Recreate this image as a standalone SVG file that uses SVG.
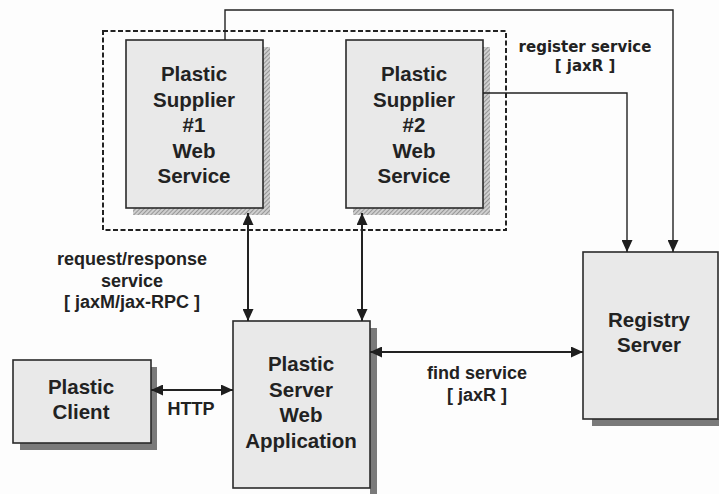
<svg xmlns="http://www.w3.org/2000/svg" width="719" height="494" viewBox="0 0 719 494">
  <style>
    .box { fill: #e9e9e9; stroke: #2a2a2a; stroke-width: 1.6; }
    .shadow { fill: #7a7a7a; }
    .hatch { fill: url(#hatch); }
    .node { font-family: "Liberation Sans", Arial, sans-serif; font-weight: bold; font-size: 20.5px; fill: #222; text-anchor: middle; }
    .lbl { font-family: "Liberation Sans", Arial, sans-serif; font-weight: bold; font-size: 18px; fill: #222; text-anchor: middle; }
    .lbl2 { font-family: "DejaVu Sans", Verdana, sans-serif; font-weight: bold; font-size: 15px; fill: #222; text-anchor: middle; }
    .wire { fill: none; stroke: #222; stroke-width: 1.4; }
    .link { fill: none; stroke: #222; stroke-width: 2; }
    .group { fill: none; stroke: #222; stroke-width: 2; stroke-dasharray: 5 2.5; }
  </style>
  <defs>
    <pattern id="hatch" width="3" height="3" patternUnits="userSpaceOnUse" patternTransform="rotate(45)">
      <rect width="3" height="3" fill="#cfcfcf"/>
      <line x1="0" y1="0" x2="0" y2="3" stroke="#7d7d7d" stroke-width="1.4"/>
    </pattern>
    <marker id="head" viewBox="0 0 12 11" refX="12" refY="5.5" markerWidth="12" markerHeight="11" markerUnits="userSpaceOnUse" orient="auto-start-reverse">
      <path d="M0,0 L12,5.5 L0,11 Z" fill="#1e1e1e"/>
    </marker>
  </defs>

  <rect width="719" height="494" fill="#fdfdfd"/>

  <!-- supplier group boundary -->
  <rect class="group" x="103" y="31" width="403" height="199"/>

  <g id="supplier1">
    <rect class="hatch" x="263" y="47" width="7" height="168"/>
    <rect class="hatch" x="133" y="208" width="137" height="7"/>
    <rect class="box" x="126" y="40" width="137" height="168"/>
    <text class="node" x="194" y="81">Plastic</text>
    <text class="node" x="194" y="106.5">Supplier</text>
    <text class="node" x="194" y="132">#1</text>
    <text class="node" x="194" y="157.5">Web</text>
    <text class="node" x="194" y="183">Service</text>
  </g>

  <g id="supplier2">
    <rect class="hatch" x="483" y="47" width="7" height="168"/>
    <rect class="hatch" x="353" y="208" width="137" height="7"/>
    <rect class="box" x="346" y="40" width="137" height="168"/>
    <text class="node" x="414" y="81">Plastic</text>
    <text class="node" x="414" y="106.5">Supplier</text>
    <text class="node" x="414" y="132">#2</text>
    <text class="node" x="414" y="157.5">Web</text>
    <text class="node" x="414" y="183">Service</text>
  </g>

  <g id="server">
    <rect class="shadow" x="370" y="328" width="7" height="166"/>
    <rect class="box" x="233" y="321" width="137" height="167"/>
    <text class="node" x="301" y="371">Plastic</text>
    <text class="node" x="301" y="396.5">Server</text>
    <text class="node" x="301" y="422">Web</text>
    <text class="node" x="301" y="447.5">Application</text>
  </g>

  <g id="client">
    <rect class="shadow" x="20" y="367" width="137" height="83"/>
    <rect class="box" x="13" y="360" width="138" height="83"/>
    <text class="node" x="81" y="394">Plastic</text>
    <text class="node" x="81" y="418.5">Client</text>
  </g>

  <g id="registry">
    <rect class="shadow" x="592" y="419" width="127" height="7"/>
    <rect class="box" x="583" y="252" width="135" height="167"/>
    <text class="node" x="649" y="327">Registry</text>
    <text class="node" x="649" y="352">Server</text>
  </g>

  <g id="connectors">
    <!-- register service -->
    <polyline class="wire" points="225,40 225,10 673,10 673,252" marker-end="url(#head)"/>
    <polyline class="wire" points="483,93 627,93 627,252" marker-end="url(#head)"/>
    <!-- request/response -->
    <line class="link" x1="248" y1="213" x2="248" y2="321" marker-start="url(#head)" marker-end="url(#head)"/>
    <line class="link" x1="362" y1="213" x2="362" y2="321" marker-start="url(#head)" marker-end="url(#head)"/>
    <!-- HTTP -->
    <line class="link" x1="151" y1="390" x2="233" y2="390" marker-start="url(#head)" marker-end="url(#head)"/>
    <!-- find service -->
    <line class="link" x1="370" y1="352" x2="583" y2="352" marker-start="url(#head)" marker-end="url(#head)"/>
  </g>

  <g id="labels">
    <text class="lbl2" x="585" y="52">register service</text>
    <text class="lbl2" x="585" y="71">[ jaxR ]</text>
    <text class="lbl" x="132" y="265">request/response</text>
    <text class="lbl" x="132" y="287">service</text>
    <text class="lbl" x="132" y="308">[ jaxM/jax-RPC ]</text>
    <text class="lbl" x="191" y="415">HTTP</text>
    <text class="lbl" x="477" y="379">find service</text>
    <text class="lbl" x="477" y="401">[ jaxR ]</text>
  </g>
</svg>
